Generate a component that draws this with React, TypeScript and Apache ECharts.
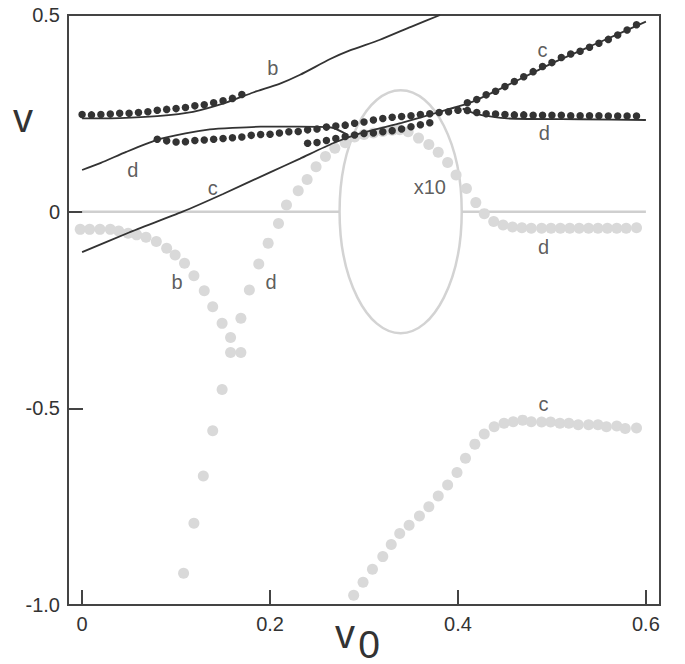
import React, { useEffect, useRef } from "react";
import * as echarts from "echarts";

// ---- axes ----
const X_TICKS = [0, 0.2, 0.4, 0.6];
const Y_TICKS = [-1, -0.5, 0, 0.5];
const Y_TICK_LABELS = ["-1.0", "-0.5", "0", "0.5"];

// ---- dark solid curves ----
const LINE_B = [
  [0, 0.237], [0.04, 0.238], [0.08, 0.243], [0.118, 0.254], [0.154, 0.278],
  [0.182, 0.303], [0.21, 0.325], [0.232, 0.348], [0.264, 0.388], [0.285, 0.41],
  [0.317, 0.437], [0.35, 0.47], [0.381, 0.5],
];
const LINE_C = [
  [0, -0.103], [0.05, -0.053], [0.107, 0], [0.15, 0.045], [0.2, 0.1],
  [0.232, 0.135], [0.267, 0.174], [0.296, 0.199], [0.34, 0.226], [0.381, 0.254],
  [0.413, 0.277], [0.45, 0.318], [0.5, 0.377], [0.55, 0.43], [0.6, 0.483],
];
const LINE_D_LEFT = [
  [0, 0.106], [0.02, 0.124], [0.047, 0.152], [0.079, 0.182], [0.11, 0.199],
  [0.136, 0.209], [0.16, 0.213], [0.19, 0.216], [0.23, 0.216], [0.265, 0.214],
  [0.283, 0.195],
];
const LINE_D_RIGHT = [
  [0.405, 0.262], [0.42, 0.248], [0.452, 0.237], [0.53, 0.235], [0.6, 0.233],
];

// ---- dark dots ----
const DOTS_B_X = [0, 0.01, 0.02, 0.03, 0.04, 0.05, 0.06, 0.07, 0.08, 0.09, 0.1, 0.11, 0.12, 0.13, 0.14, 0.15, 0.16, 0.17];
const DOTS_B_Y = [0.247, 0.246, 0.247, 0.248, 0.25, 0.25, 0.252, 0.254, 0.258, 0.26, 0.262, 0.265, 0.269, 0.272, 0.277, 0.282, 0.288, 0.298];

const DOTS_D_X = [0.08, 0.09, 0.1, 0.11, 0.12, 0.13, 0.14, 0.15, 0.16, 0.17, 0.18, 0.19, 0.2, 0.21, 0.22, 0.23, 0.24, 0.25, 0.26, 0.27, 0.28, 0.29, 0.3, 0.31, 0.32, 0.33, 0.34, 0.35, 0.36, 0.37, 0.38, 0.39, 0.4,
  0.41, 0.42, 0.43, 0.44, 0.45, 0.46, 0.47, 0.48, 0.49, 0.5, 0.51, 0.52, 0.53, 0.54, 0.55, 0.56, 0.57, 0.58, 0.59];
const DOTS_D_Y = [0.184, 0.18, 0.177, 0.178, 0.181, 0.182, 0.184, 0.186, 0.188, 0.19, 0.194, 0.196, 0.197, 0.2, 0.203, 0.204, 0.208, 0.21, 0.215, 0.218, 0.22, 0.225, 0.228, 0.233, 0.237, 0.24, 0.242, 0.244, 0.247, 0.249, 0.252, 0.254, 0.258,
  0.257, 0.252, 0.249, 0.248, 0.247, 0.246, 0.246, 0.245, 0.245, 0.245, 0.245, 0.244, 0.244, 0.244, 0.244, 0.243, 0.243, 0.243, 0.243];

const DOTS_C_MID_X = [0.24, 0.25, 0.26, 0.27, 0.28, 0.29, 0.3, 0.31, 0.32, 0.33, 0.34, 0.35, 0.36, 0.37];
const DOTS_C_MID_Y = [0.174, 0.176, 0.181, 0.186, 0.191, 0.195, 0.199, 0.2, 0.203, 0.206, 0.21, 0.216, 0.221, 0.226];

const DOTS_C_RIGHT_X = [0.41, 0.42, 0.43, 0.44, 0.45, 0.46, 0.47, 0.48, 0.49, 0.5, 0.51, 0.52, 0.53, 0.54, 0.55, 0.56, 0.57, 0.58, 0.59];
const DOTS_C_RIGHT_Y = [0.277, 0.285, 0.297, 0.306, 0.318, 0.331, 0.343, 0.356, 0.369, 0.379, 0.392, 0.401, 0.408, 0.418, 0.428, 0.438, 0.449, 0.462, 0.475];

// ---- light grey dots (x10) ----
const GREY_B_X = [-0.002, 0.008, 0.019, 0.03, 0.039, 0.049, 0.058, 0.068, 0.079, 0.09, 0.099, 0.109, 0.119, 0.13, 0.139, 0.149, 0.158, 0.158, 0.149, 0.139, 0.129, 0.119, 0.108];
const GREY_B_Y = [-0.045, -0.045, -0.045, -0.045, -0.049, -0.055, -0.059, -0.065, -0.076, -0.093, -0.11, -0.131, -0.163, -0.201, -0.242, -0.284, -0.32, -0.358, -0.452, -0.557, -0.672, -0.792, -0.919];

const GREY_D_X = [0.169, 0.169, 0.178, 0.188, 0.198, 0.209, 0.2175, 0.23, 0.2395, 0.249, 0.259, 0.269, 0.28, 0.29, 0.3, 0.31, 0.32, 0.33, 0.338, 0.347, 0.358, 0.369, 0.379, 0.389, 0.398, 0.409, 0.419, 0.428, 0.438, 0.448, 0.458, 0.468, 0.478, 0.489, 0.499, 0.509, 0.519, 0.529, 0.539, 0.549, 0.559, 0.569, 0.579, 0.59];
const GREY_D_Y = [-0.358, -0.271, -0.199, -0.133, -0.08, -0.03, 0.017, 0.053, 0.082, 0.114, 0.14, 0.161, 0.175, 0.19, 0.196, 0.2, 0.204, 0.207, 0.208, 0.203, 0.187, 0.171, 0.151, 0.125, 0.093, 0.059, 0.023, -0.005, -0.025, -0.034, -0.039, -0.041, -0.042, -0.042, -0.042, -0.042, -0.042, -0.042, -0.042, -0.042, -0.042, -0.042, -0.042, -0.041];

const GREY_C_X = [0.289, 0.299, 0.309, 0.32, 0.329, 0.338, 0.348, 0.359, 0.369, 0.379, 0.389, 0.399, 0.408, 0.418, 0.428, 0.4385, 0.449, 0.4588, 0.4688, 0.478, 0.489, 0.4986, 0.5085, 0.518, 0.528, 0.539, 0.549, 0.558, 0.569, 0.578, 0.59];
const GREY_C_Y = [-0.975, -0.942, -0.909, -0.877, -0.846, -0.818, -0.797, -0.774, -0.75, -0.723, -0.695, -0.663, -0.627, -0.591, -0.565, -0.547, -0.538, -0.534, -0.53, -0.534, -0.535, -0.535, -0.538, -0.538, -0.542, -0.542, -0.542, -0.547, -0.545, -0.551, -0.55];

// ---- annotations (data coords) ----
const ANNOTATIONS: [number, number, string][] = [
  [0.203, 0.365, "b"],
  [0.054, 0.106, "d"],
  [0.139, 0.06, "c"],
  [0.49, 0.411, "c"],
  [0.492, 0.2, "d"],
  [0.37, 0.063, "x10"],
  [0.101, -0.179, "b"],
  [0.201, -0.179, "d"],
  [0.491, -0.09, "d"],
  [0.491, -0.489, "c"],
];

// zero reference line, broken by the ellipse
const ZERO_SEGMENTS = [[0, 0.274], [0.404, 0.6]];
// magnifier ellipse (data units)
const ELLIPSE = { cx: 0.339, cy: 0, rx: 0.065, ry: 0.309 };

const DARK = "#333333";
const GREY = "#d9d9d9";
const FONT = "'Liberation Sans', Arial, Helvetica, sans-serif";

const zip = (xs: number[], ys: number[]) => xs.map((x, i) => [x, ys[i]]);

export default function App() {
  const ref = useRef<HTMLDivElement>(null);

  useEffect(() => {
    const chart = echarts.init(ref.current!, null, { renderer: "svg" });

    const lineSeries = (data: number[][]) => ({
      type: "line",
      data,
      showSymbol: false,
      symbol: "none",
      smooth: 0.2,
      silent: true,
      z: 3,
      lineStyle: { color: DARK, width: 1.8 },
    });
    const darkDots = (data: number[][]) => ({
      type: "scatter",
      data,
      symbolSize: 7.5,
      silent: true,
      z: 4,
      itemStyle: { color: DARK, opacity: 1 },
    });
    const greyDots = (data: number[][]) => ({
      type: "scatter",
      data,
      symbolSize: 11,
      silent: true,
      z: 2,
      itemStyle: { color: GREY, opacity: 1 },
    });

    const option: any = {
      animation: false,
      grid: {
        left: 68,
        top: 15,
        width: 592,
        height: 590,
        show: true,
        borderColor: "#444",
        borderWidth: 2,
        backgroundColor: "transparent",
      },
      xAxis: {
        type: "value",
        min: -0.015,
        max: 0.615,
        axisLine: { show: true, onZero: false, lineStyle: { color: "#444", width: 2 } },
        axisTick: {
          show: true,
          inside: true,
          length: 15,
          customValues: X_TICKS,
          lineStyle: { color: "#444", width: 2 },
        },
        axisLabel: {
          customValues: X_TICKS,
          margin: 9,
          fontSize: 20,
          color: "#333",
          fontFamily: FONT,
          formatter: (v: number) => String(v),
        },
        splitLine: { show: false },
      },
      yAxis: {
        type: "value",
        min: -1,
        max: 0.5,
        interval: 0.5,
        axisLine: { show: true, onZero: false, lineStyle: { color: "#444", width: 2 } },
        axisTick: {
          show: true,
          inside: true,
          length: 15,
          lineStyle: { color: "#444", width: 2 },
        },
        axisLabel: {
          margin: 8,
          fontSize: 20,
          color: "#333",
          fontFamily: FONT,
          formatter: (v: number) => {
            const i = Y_TICKS.findIndex((t) => Math.abs(t - v) < 1e-9);
            return i >= 0 ? Y_TICK_LABELS[i] : "";
          },
        },
        splitLine: { show: false },
      },
      series: [
        ...ZERO_SEGMENTS.map(([a, b]) => ({
          type: "line",
          data: [[a, 0], [b, 0]],
          symbol: "none",
          silent: true,
          z: 1,
          lineStyle: { color: "#cfcfcf", width: 2.5 },
        })),
        greyDots(zip(GREY_B_X, GREY_B_Y)),
        greyDots(zip(GREY_D_X, GREY_D_Y)),
        greyDots(zip(GREY_C_X, GREY_C_Y)),
        lineSeries(LINE_B),
        lineSeries(LINE_C),
        lineSeries(LINE_D_LEFT),
        lineSeries(LINE_D_RIGHT),
        darkDots(zip(DOTS_B_X, DOTS_B_Y)),
        darkDots(zip(DOTS_D_X, DOTS_D_Y)),
        darkDots(zip(DOTS_C_MID_X, DOTS_C_MID_Y)),
        darkDots(zip(DOTS_C_RIGHT_X, DOTS_C_RIGHT_Y)),
        {
          type: "scatter",
          data: ANNOTATIONS,
          symbolSize: 0,
          silent: true,
          z: 5,
          label: {
            show: true,
            position: "inside",
            fontSize: 20,
            color: "#333",
            fontFamily: FONT,
            formatter: (p: any) => p.data[2],
          },
        },
      ],
    };

    chart.setOption(option);

    const c = chart.convertToPixel({ gridIndex: 0 } as any, [ELLIPSE.cx, ELLIPSE.cy]) as number[];
    const e = chart.convertToPixel({ gridIndex: 0 } as any, [ELLIPSE.cx + ELLIPSE.rx, ELLIPSE.cy + ELLIPSE.ry]) as number[];

    chart.setOption({
      graphic: [
        {
          id: "ellipse",
          type: "ellipse",
          silent: true,
          z: 1,
          shape: { cx: c[0], cy: c[1], rx: Math.abs(e[0] - c[0]), ry: Math.abs(c[1] - e[1]) },
          style: { fill: "none", stroke: "#d3d3d3", lineWidth: 2.5 },
        },
        {
          id: "yname",
          type: "text",
          x: 23,
          y: 118,
          silent: true,
          style: {
            text: "v",
            fontSize: 40,
            fontFamily: FONT,
            fill: "#333",
            align: "center",
            verticalAlign: "middle",
          },
        },
        {
          id: "xname-v",
          type: "text",
          x: 345,
          y: 634,
          silent: true,
          style: {
            text: "v",
            fontSize: 40,
            fontFamily: FONT,
            fill: "#333",
            align: "center",
            verticalAlign: "middle",
          },
        },
        {
          id: "xname-0",
          type: "text",
          x: 369,
          y: 644,
          silent: true,
          style: {
            text: "0",
            fontSize: 39,
            fontFamily: FONT,
            fill: "#333",
            align: "center",
            verticalAlign: "middle",
          },
        },
      ],
    });

    return () => chart.dispose();
  }, []);

  return (
    <div
      ref={ref}
      style={{ position: "absolute", left: 0, top: 0, width: 685, height: 664, background: "#fff" }}
    />
  );
}
